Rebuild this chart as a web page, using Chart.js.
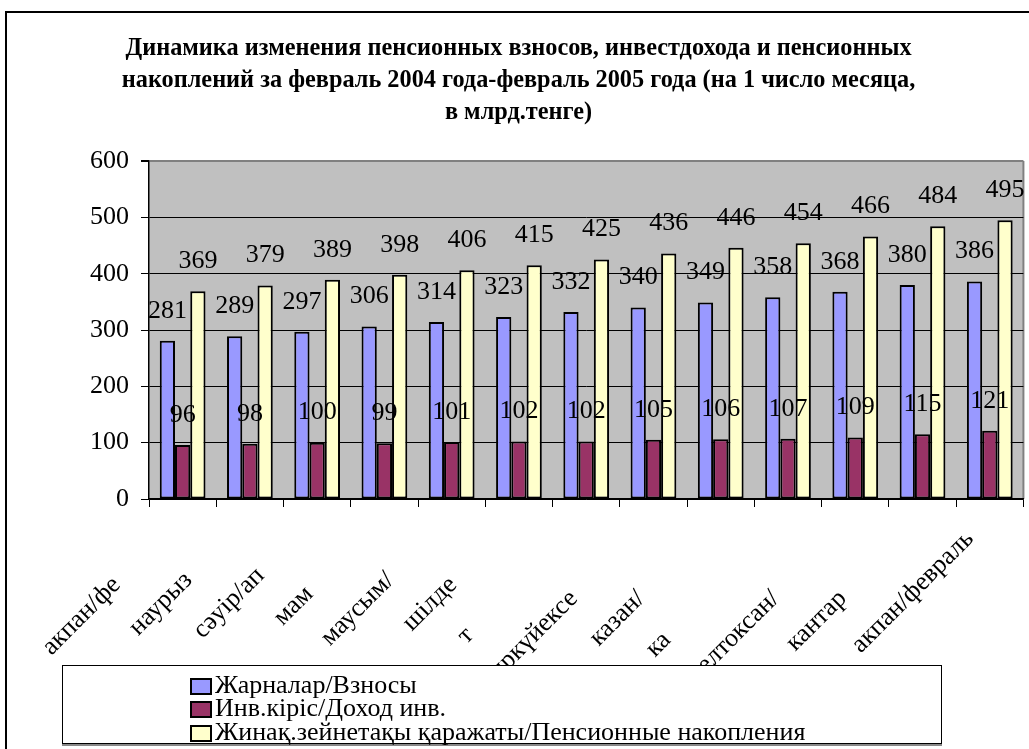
<!DOCTYPE html>
<html><head><meta charset="utf-8">
<script src="https://cdn.jsdelivr.net/npm/chart.js@4/dist/chart.umd.min.js"></script>
<style>
html,body{margin:0;padding:0;background:#fff;}
#wrap{position:relative;width:1029px;height:749px;overflow:hidden;background:#fff;}
#frame{position:absolute;left:5px;top:11px;width:1100px;height:800px;border:2px solid #000;box-sizing:border-box;}
#chart{position:absolute;left:0;top:0;}
#legend{position:absolute;left:62px;top:665px;width:880px;height:79px;border:1px solid #000;background:#fff;box-sizing:border-box;box-shadow:0 2px 0 #888;font-family:'Liberation Serif','Times New Roman',serif;font-size:26px;color:#000;}
.row{position:absolute;left:0;height:23.5px;line-height:23.5px;white-space:nowrap;}
.sw{position:absolute;left:127px;top:5px;width:22px;height:17px;border:2px solid #000;box-sizing:border-box;}
.tx{position:absolute;left:152px;top:0;}
</style></head>
<body>
<div id="wrap">
<div id="frame"></div>
<canvas id="chart" width="1029" height="749"></canvas>
<div id="legend"></div>
</div>
<script>
// ---- data ----
const categories = ['акпан/февраль','наурыз/март','сәуір/апрель','мамыр/май','маусым/июнь','шілде/июль','тамыз/август','қыркүйек/сентябрь','казан/октябрь','қараша/ноябрь','желтоксан/декабрь','кантар/январь','акпан/февраль'];
const shownLabels = ['акпан/фе','наурыз','сәуір/ап','мам','маусым/','шілде','т','қыркүйексе','казан/','ка','желтоксан/','кантар','акпан/февраль'];
const seriesNames = ['Жарналар/Взносы','Инв.кіріс/Доход инв.','Жинақ.зейнетақы қаражаты/Пенсионные накопления'];
const contributions = [281,289,297,306,314,323,332,340,349,358,368,380,386];
const investIncome = [96,98,100,99,101,102,102,105,106,107,109,115,121];
const pensionSavings = [369,379,389,398,406,415,425,436,446,454,466,484,495];
const yTicks = [0,100,200,300,400,500,600];
const titleLines = ['Динамика изменения пенсионных взносов, инвестдохода и пенсионных','накоплений за февраль 2004 года-февраль 2005 года (на 1 число месяца,','в млрд.тенге)'];
const colors = ['#9999FF','#993366','#FFFFCC'];

const FONT = "'Liberation Serif'";
const mctx = document.createElement('canvas').getContext('2d');
mctx.font = '26px ' + FONT;
function padLabel(i){
  const gap = mctx.measureText(categories[i]).width - mctx.measureText(shownLabels[i]).width;
  const sp = mctx.measureText(' ').width;
  return shownLabels[i] + ' '.repeat(Math.max(0, Math.round(gap / sp)));
}

const plotBg = {
  id:'plotBg',
  beforeDraw(chart){
    const {ctx, chartArea:a} = chart;
    ctx.save();
    ctx.fillStyle = '#C0C0C0';
    ctx.fillRect(a.left, a.top, a.right - a.left, a.bottom - a.top);
    ctx.strokeStyle = '#808080';
    ctx.lineWidth = 2;
    ctx.beginPath();
    ctx.moveTo(a.right, a.top);
    ctx.lineTo(a.right, a.bottom);
    ctx.stroke();
    ctx.restore();
  }
};
const valueLabels = {
  id:'valueLabels',
  afterDatasetsDraw(chart){
    const ctx = chart.ctx;
    ctx.save();
    ctx.font = '26px ' + FONT;
    ctx.fillStyle = '#000';
    ctx.textAlign = 'center';
    ctx.textBaseline = 'middle';
    chart.data.datasets.forEach((ds, di) => {
      chart.getDatasetMeta(di).data.forEach((el, i) => {
        ctx.fillText(String(ds.data[i]), el.x, el.y - 30);
      });
    });
    ctx.restore();
  }
};

const datasets = [contributions, investIncome, pensionSavings].map((d, i) => ({
  label: seriesNames[i], data: d, backgroundColor: colors[i], borderColor: '#000',
  borderWidth: 2, borderSkipped: false, categoryPercentage: 0.68, barPercentage: 1.0
}));

new Chart(document.getElementById('chart'), {
  type: 'bar',
  data: { labels: categories, datasets },
  options: {
    responsive: false, animation: false, devicePixelRatio: 1,
    layout: { padding: { left: 12, right: 4, top: 0, bottom: 0 } },
    plugins: {
      legend: { display: false },
      tooltip: { enabled: false },
      title: { display: true, text: titleLines, color: '#000',
        font: { family: FONT, size: 24.3, weight: 'bold', lineHeight: 1.317 },
        padding: { top: 33, bottom: 32 } }
    },
    scales: {
      x: {
        grid: { drawOnChartArea: false, drawTicks: true, tickLength: 8, color: '#000', offset: true },
        border: { color: '#000', width: 1.5 },
        ticks: { autoSkip: false, minRotation: 45, maxRotation: 45, color: '#000',
          font: { family: FONT, size: 26 }, padding: 17, labelOffset: -20,
          callback: (v, i) => padLabel(i) },
        afterFit: s => { s.height = 250; }
      },
      y: {
        min: 0, max: 600,
        afterBuildTicks: s => { s.ticks = yTicks.map(v => ({ value: v })); },
        grid: { color: c => (c.tick && c.tick.value === 600) ? '#808080' : '#000',
                lineWidth: c => (c.tick && c.tick.value === 600) ? 2 : 1,
                tickColor: '#000', tickLength: 8 },
        border: { color: '#000', width: 1.5 },
        ticks: { color: '#000', font: { family: FONT, size: 26 }, padding: 12 },
        afterFit: s => { s.width = 137; }
      }
    }
  },
  plugins: [plotBg, valueLabels]
});

// legend box
const lg = document.getElementById('legend');
seriesNames.forEach((n, i) => {
  const r = document.createElement('div');
  r.className = 'row';
  r.style.top = (6.5 + i * 23.5) + 'px';
  const sw = document.createElement('span'); sw.className = 'sw'; sw.style.background = colors[i];
  const tx = document.createElement('span'); tx.className = 'tx'; tx.textContent = n;
  r.appendChild(sw); r.appendChild(tx); lg.appendChild(r);
});
</script>
</body></html>
